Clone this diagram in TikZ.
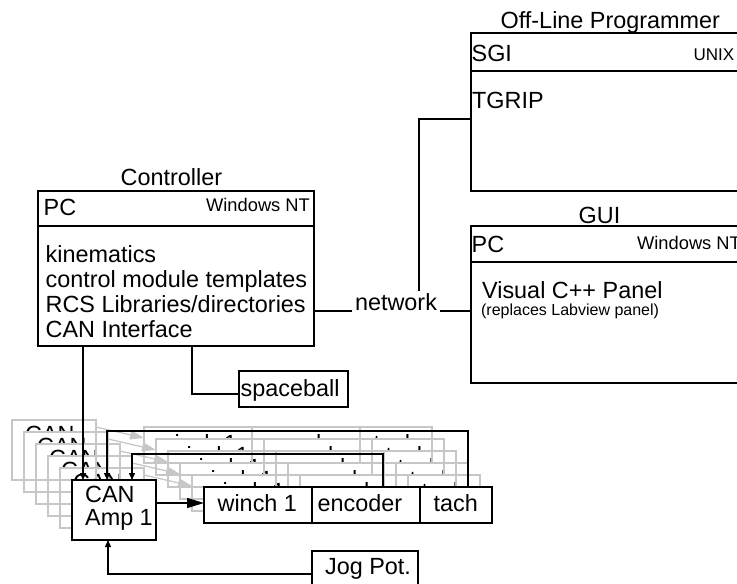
\documentclass[tikz,border=0pt]{standalone}
\usepackage{fontspec}
\setmainfont{Liberation Sans}
\usetikzlibrary{arrows.meta}

\begin{document}
\begin{tikzpicture}[x=1pt,y=-1pt,
  line width=1.3pt,
  box/.style={draw, fill=white, rectangle, inner sep=0pt, outer sep=0pt, anchor=north west},
  ghostfill/.style={fill=white, rectangle, inner sep=0pt, outer sep=0pt, anchor=north west},
  ghostline/.style={draw=black!22},
  lbl/.style={inner sep=0pt, anchor=base west, font=\fontsize{23.4}{26}\selectfont},
  smalllbl/.style={inner sep=0pt, anchor=base west, font=\fontsize{18.3}{20}\selectfont},
  tinylbl/.style={inner sep=0pt, anchor=base west, font=\fontsize{17}{19}\selectfont},
  notelbl/.style={inner sep=0pt, anchor=base west, font=\fontsize{16}{18}\selectfont},
  bigtip/.style={-{Triangle[length=17pt,width=10pt]}},
  graytip/.style={draw=black!22, -{Triangle[length=14pt,width=9pt]}},
  smalltip/.style={-{Triangle[length=7pt,width=6pt]}}
]
\useasboundingbox (0,0) rectangle (737,584);

% ---------- Controller ----------
\node[lbl] (ctrltitle) at (120,185) {Controller};
\node[box, minimum width=276pt, minimum height=155pt] (ctrl) at (38,191) {};
\draw (ctrl.west |- 0,226) -- (ctrl.east |- 0,226);
\node[lbl] (ctrlpc) at (43,215) {PC};
\node[smalllbl] (ctrlos) at (205.5,211) {Windows NT};
\node[lbl] (ctrlk) at (45,262) {kinematics};
\node[lbl] (ctrlc) at (45,287) {control module templates};
\node[lbl] (ctrlr) at (45,312) {RCS Libraries/directories};
\node[lbl] (ctrli) at (45,337) {CAN Interface};

% ---------- Off-Line Programmer ----------
\node[lbl] (olptitle) at (500,28) {Off-Line Programmer};
\node[box, minimum width=280pt, minimum height=158pt] (olp) at (471,33) {};
\draw (olp.west |- 0,71) -- (olp.east |- 0,71);
\node[lbl] (olpsgi) at (471,61) {SGI};
\node[tinylbl] (olpos) at (693,60) {UNIX};
\node[lbl] (olptg) at (471.5,108) {TGRIP};

% ---------- GUI ----------
\node[lbl] (guititle) at (578,223) {GUI};
\node[box, minimum width=280pt, minimum height=157pt] (gui) at (471,226) {};
\draw (gui.west |- 0,262) -- (gui.east |- 0,262);
\node[lbl] (guipc) at (471,252) {PC};
\node[smalllbl] (guios) at (636.5,249) {Windows NT};
\node[lbl] (guivc) at (481.5,298) {Visual C++ Panel};
\node[notelbl] (guinote) at (480.5,315) {(replaces Labview panel)};

% ---------- network ----------
\node[lbl, anchor=base, inner xsep=2pt, inner ysep=1pt] (net) at (396,310) {network};
\draw (ctrl.east |- 0,311) -- (net.west |- 0,311);
\draw (net.east |- 0,311) -- (gui.west |- 0,311);
\draw (net.north -| 419,0) |- (olp.west |- 0,119);

% ---------- spaceball ----------
\node[box, minimum width=109pt, minimum height=36pt] (sb) at (239,371) {};
\node[lbl] (sbtext) at (240,396) {spaceball};
\draw (ctrl.south -| 192,0) |- (sb.west |- 0,394);

% ---------- stacked amplifier channels (back copies) ----------
% white bodies and labels, farthest first
\foreach \k in {5,4,3,2,1} {
  \begin{scope}[shift={(-12*\k,-12*\k)}]
    \node[ghostfill, minimum width=84pt, minimum height=60pt] (gcan\k) at (72,480) {};
    \node[lbl] (gcana\k) at (84.5,502) {CAN};
    \node[lbl] (gcanb\k) at (84.5,525) {Amp 1};
    \node[ghostfill, minimum width=108pt, minimum height=36pt] (gwinch\k) at (204,487) {};
    \node[ghostfill, minimum width=108pt, minimum height=36pt] (genc\k) at (312,487) {};
    \node[ghostfill, minimum width=72pt, minimum height=36pt] (gtach\k) at (420,487) {};
    \node[lbl] (gwt\k) at (217,511) {winch 1};
    \node[lbl] (get\k) at (317,511) {encoder};
    \node[lbl] (gtt\k) at (433,511) {tach};
  \end{scope}
}
% grey outlines and arrows of the back copies
\foreach \k in {5,4,3,2,1} {
  \draw[ghostline] (gcan\k.north west) rectangle (gcan\k.south east);
  \draw[ghostline] (gwinch\k.north west) rectangle (gwinch\k.south east);
  \draw[ghostline] (genc\k.north west) rectangle (genc\k.south east);
  \draw[ghostline] (gtach\k.north west) rectangle (gtach\k.south east);
  \draw[graytip] ([yshift=-7pt]gcan\k.north east) -- ([yshift=7pt]gwinch\k.west);
}

% ---------- front amplifier channel ----------
\node[box, minimum width=84pt, minimum height=60pt] (can) at (72,480) {};
\node[lbl] (cana) at (84.5,502) {CAN};
\node[lbl] (canb) at (84.5,525) {Amp 1};
\node[box, minimum width=108pt, minimum height=36pt] (winch) at (204,487) {};
\node[box, minimum width=108pt, minimum height=36pt] (enc) at (312,487) {};
\node[box, minimum width=72pt, minimum height=36pt] (tach) at (420,487) {};
\node[lbl] (wt) at (217,511) {winch 1};
\node[lbl] (et) at (317,511) {encoder};
\node[lbl] (tt) at (433,511) {tach};
\draw[bigtip] (can.east |- 0,503) -- (winch.west |- 0,503);

% ---------- feedback and command lines ----------
\coordinate (tachturn) at (107,431);
\coordinate (encturn) at (132,454);
\draw[smalltip] (ctrl.south -| 83,0) -- (can.north -| 83,0);
\draw[smalltip] (tach.north -| 468,0) |- (tachturn) -- (can.north -| tachturn);
\draw[smalltip] (enc.north -| 383,0) |- (encturn) -- (can.north -| encturn);

% ---------- Jog Pot. ----------
\node[box, minimum width=106pt, minimum height=45pt] (jog) at (312,551) {};
\node[lbl] (jogt) at (324.5,574) {Jog Pot.};
\draw[smalltip] (jog.west |- 0,574) -| (can.south -| 108,0);
\end{tikzpicture}
\end{document}
